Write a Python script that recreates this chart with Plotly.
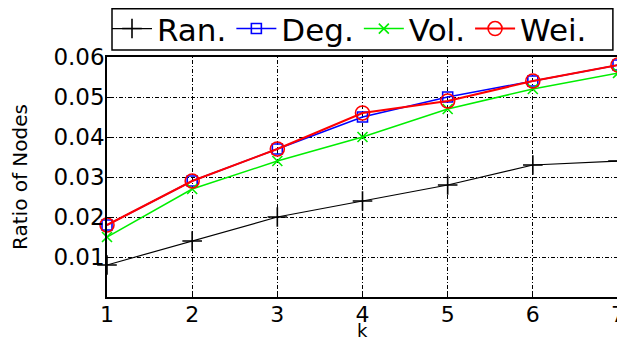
import plotly.graph_objects as go

k = [1, 2, 3, 4, 5, 6, 7]
ran = [0.008, 0.014, 0.020, 0.024, 0.028, 0.033, 0.034]
deg = [0.018, 0.029, 0.037, 0.045, 0.050, 0.054, 0.058]
vol = [0.015, 0.027, 0.034, 0.040, 0.047, 0.052, 0.056]
wei = [0.018, 0.029, 0.037, 0.046, 0.049, 0.054, 0.058]
y_ticks = [0.01, 0.02, 0.03, 0.04, 0.05, 0.06]
y_ticklabels = ["0.01", "0.02", "0.03", "0.04", "0.05", "0.06"]

series = [
    ("Ran.", ran, "black", "cross-thin-open", 14, 1.2),
    ("Deg.", deg, "blue", "square-open", 10, 1.5),
    ("Vol.", vol, "#00ee00", "x-thin-open", 10, 1.5),
    ("Wei.", wei, "red", "circle-open", 14, 2),
]

fig = go.Figure()
for name, vals, color, sym, size, lw in series:
    fig.add_trace(go.Scatter(
        x=k, y=vals, name=name, mode="lines+markers",
        line=dict(color=color, width=lw),
        marker=dict(symbol=sym, size=size, color=color, line=dict(color=color, width=1.6)),
        cliponaxis=False,
    ))

font = "DejaVu Sans, sans-serif"
fig.update_layout(
    width=625, height=341,
    margin=dict(l=99, r=15, t=49, b=52, autoexpand=False),
    paper_bgcolor="white", plot_bgcolor="white",
    font=dict(family=font, color="black"),
    showlegend=True,
    legend=dict(
        orientation="h", x=0.0, xanchor="left", y=1.117, yanchor="middle",
        borderwidth=0, bgcolor="rgba(0,0,0,0)",
        font=dict(size=31, family=font), itemwidth=40, tracegroupgap=0,
    ),
    shapes=[dict(
        type="rect", xref="paper", yref="paper",
        x0=0.0098, x1=0.990, y0=1.029, y1=1.201,
        line=dict(color="black", width=1.5), fillcolor="rgba(0,0,0,0)", layer="below",
    )],
    annotations=[dict(
        text="k", x=4, xref="x", y=-0.19, yref="paper", yanchor="bottom",
        showarrow=False, font=dict(size=18, family=font),
    )],
    xaxis=dict(
        range=[1, 7], tickvals=k, ticktext=[str(v) for v in k],
        showline=True, linecolor="black", linewidth=1.5, mirror=True,
        showgrid=True, gridcolor="black", gridwidth=1, griddash="1px,2px,4px,2px",
        ticks="inside", ticklen=5, tickcolor="black",
        tickfont=dict(size=22), zeroline=False, ticklabelstandoff=-3,
    ),
    yaxis=dict(
        range=[0, 0.06], tickvals=y_ticks, ticktext=y_ticklabels,
        showline=True, linecolor="black", linewidth=1.5, mirror=True,
        showgrid=True, gridcolor="black", gridwidth=1, griddash="1px,2px,4px,2px",
        ticks="inside", ticklen=5, tickcolor="black",
        tickfont=dict(size=23), zeroline=False, ticklabelstandoff=-4,
        title=dict(text="Ratio of Nodes", font=dict(size=20), standoff=24),
    ),
)
fig.write_html("out.html")
